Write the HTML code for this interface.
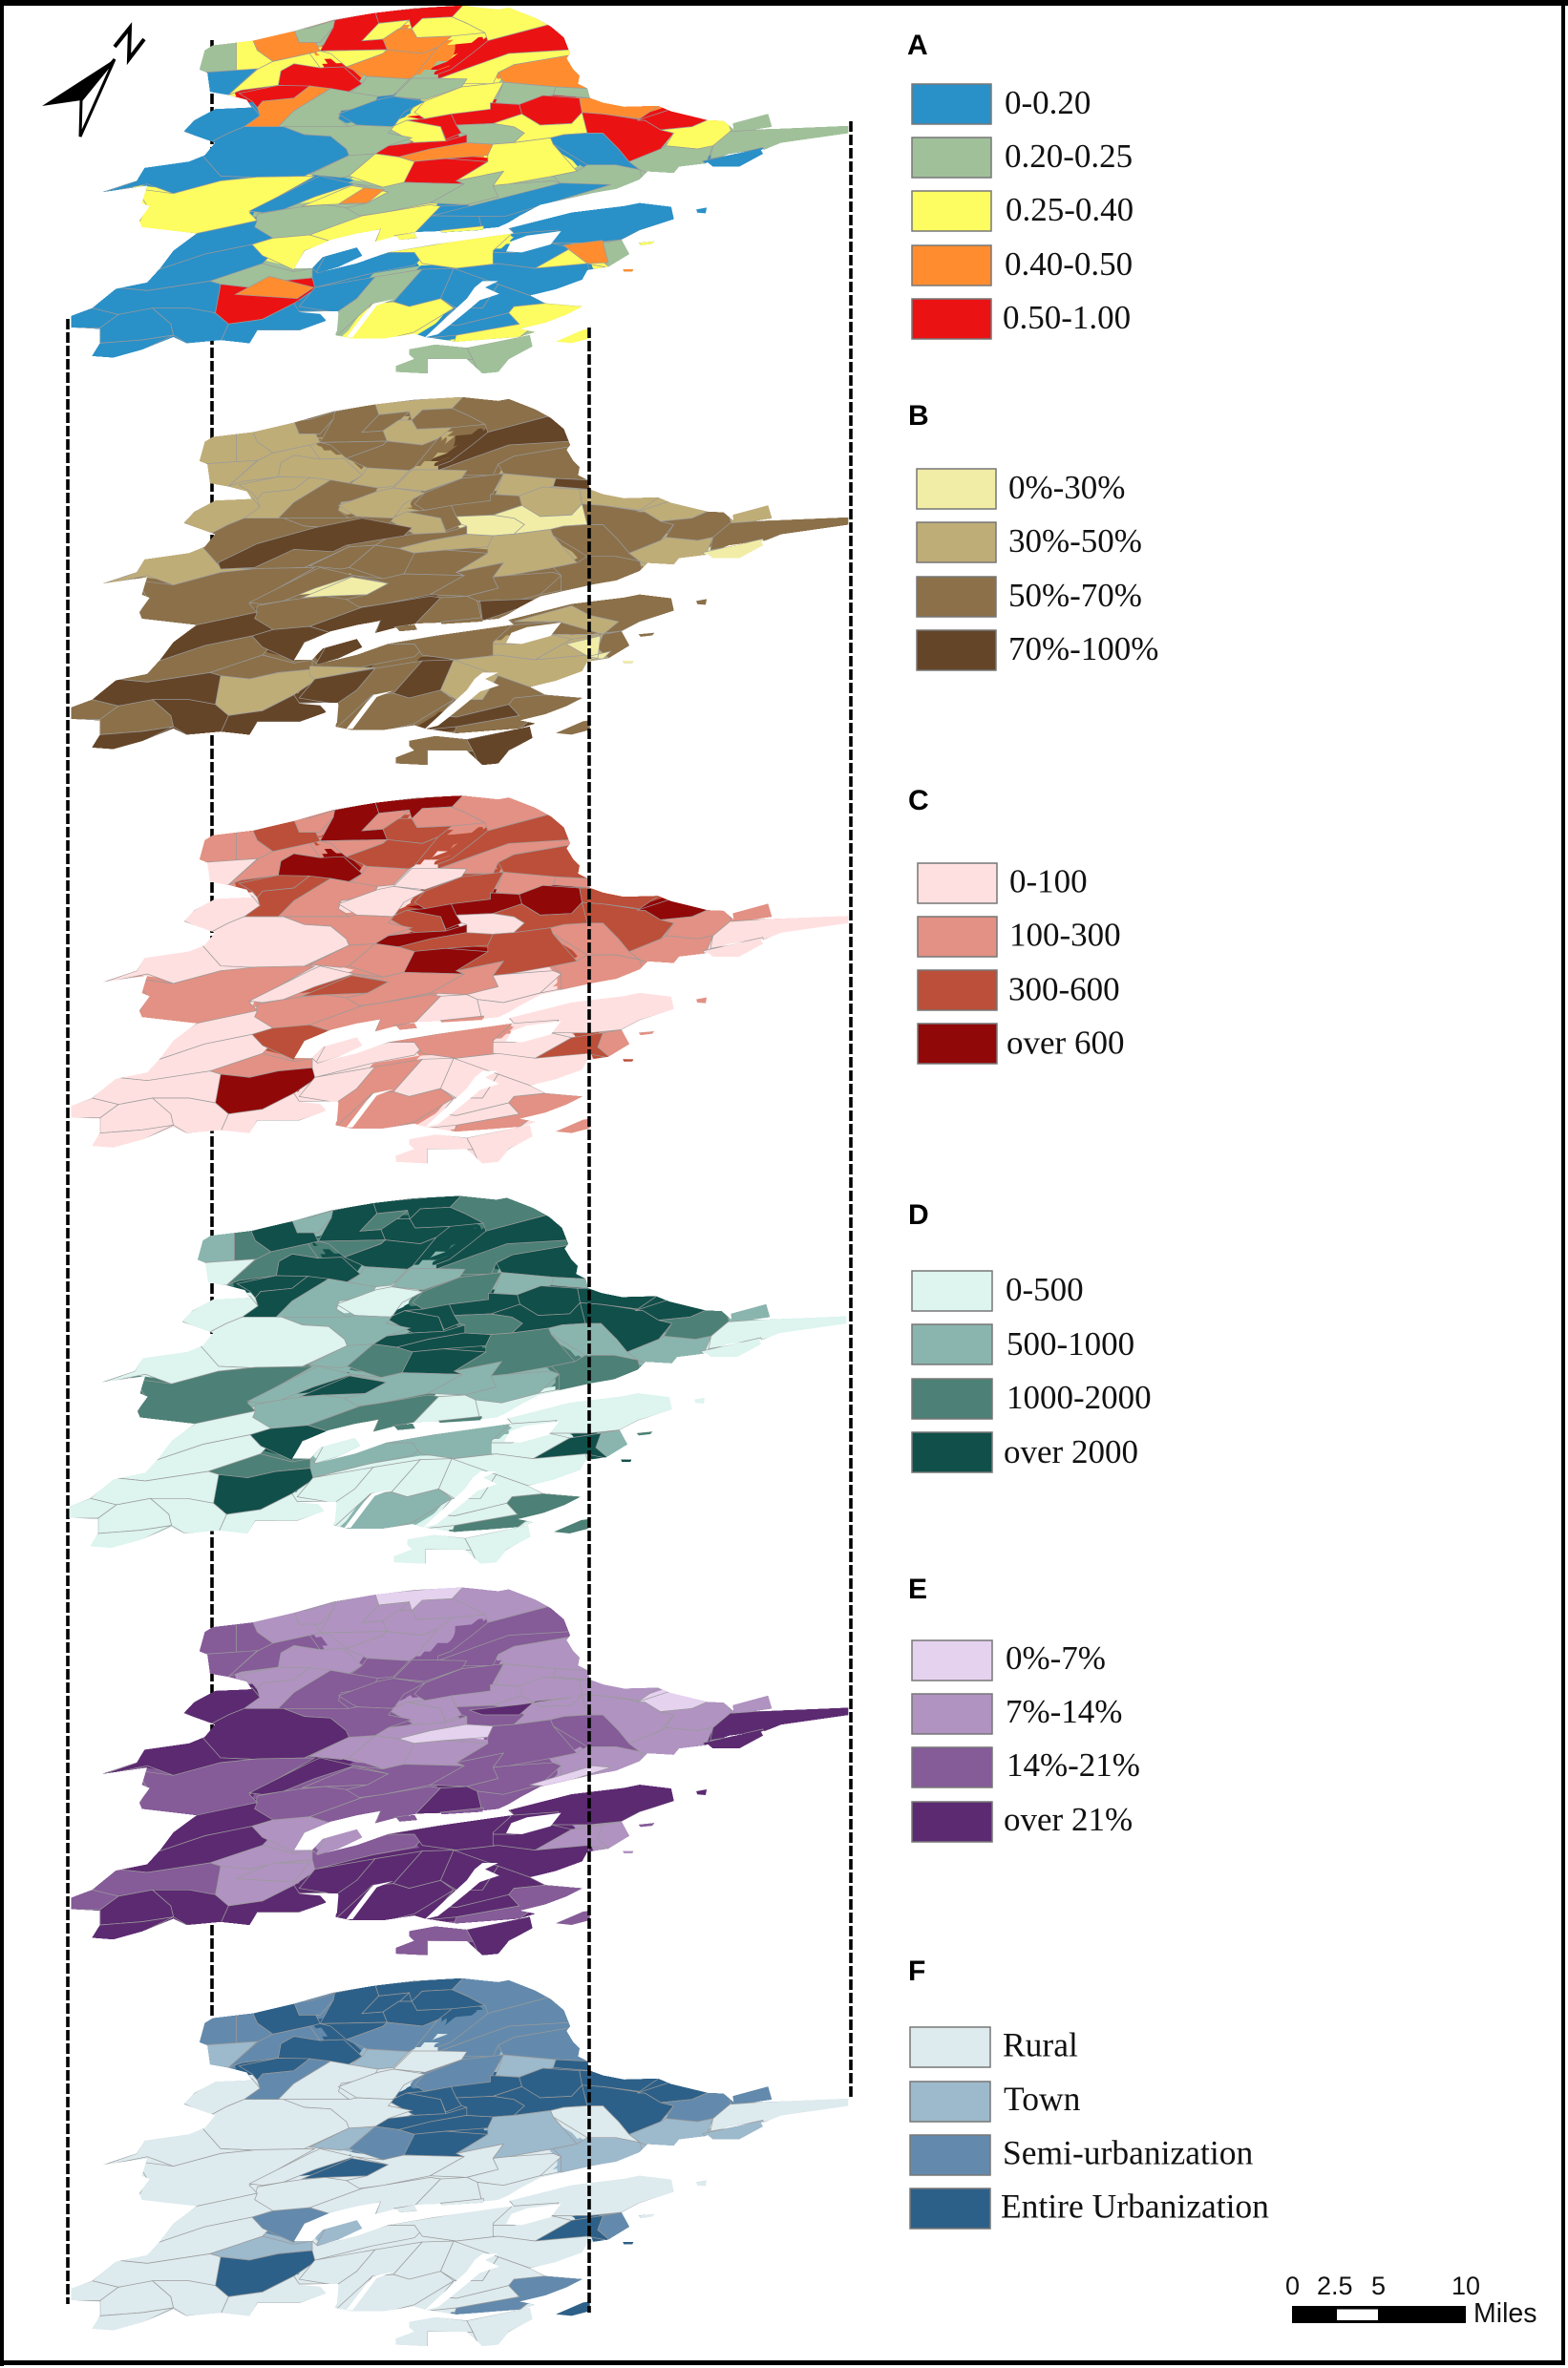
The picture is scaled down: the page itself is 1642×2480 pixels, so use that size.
<!DOCTYPE html>
<html lang="en">
<head>
<meta charset="utf-8">
<title>Six-panel township choropleth maps</title>
<style>
html,body{margin:0;padding:0;background:#fff}
svg{display:block}
.ser{font-family:"Liberation Serif",serif;font-size:35px;fill:#111}
.head{font-family:"Liberation Sans",sans-serif;font-size:30px;font-weight:bold;fill:#000}
.sc{font-family:"Liberation Sans",sans-serif;font-size:27px;fill:#111}
.sw{stroke:#777;stroke-width:1.5}
.dash{stroke:#000;stroke-width:3.6;stroke-dasharray:11 3;fill:none}
</style>
</head>
<body>
<svg id="figure" xmlns="http://www.w3.org/2000/svg" width="1642" height="2480" viewBox="0 0 1642 2480">
<rect width="1642" height="2480" fill="#fff"/>
<g>
<line class="dash" x1="71" y1="334" x2="71" y2="2413"/>
<line class="dash" x1="222" y1="42" x2="222" y2="2112"/>
<line class="dash" x1="891" y1="127" x2="891" y2="2197"/>
</g>
<g id="maps"></g>
<line class="dash" x1="617" y1="343" x2="617" y2="2422"/>

<g>
<polygon points="120,62 44,111 85,105" fill="#000"/>
<polygon points="120,62 85,105 84,143" fill="#fff" stroke="#000" stroke-width="3"/>
<polyline points="120,49 136,29 135,62 151,41" fill="none" stroke="#000" stroke-width="4"/>
</g>

<g>
<text class="head" x="950" y="57">A</text>
<rect class="sw" x="955" y="88" width="83" height="42" fill="#2a90c8"/>
<rect class="sw" x="955" y="144" width="83" height="42" fill="#a0c09a"/>
<rect class="sw" x="955" y="200" width="83" height="42" fill="#fdfc60"/>
<rect class="sw" x="955" y="257" width="83" height="42" fill="#ff8d30"/>
<rect class="sw" x="955" y="313" width="83" height="42" fill="#eb1214"/>
<text class="ser" x="1052" y="119">0-0.20</text>
<text class="ser" x="1052" y="175">0.20-0.25</text>
<text class="ser" x="1053" y="231">0.25-0.40</text>
<text class="ser" x="1052" y="288">0.40-0.50</text>
<text class="ser" x="1050" y="344">0.50-1.00</text>
</g>
<g>
<text class="head" x="951" y="445">B</text>
<rect class="sw" x="960" y="491" width="83" height="42" fill="#f1eda6"/>
<rect class="sw" x="960" y="547" width="83" height="42" fill="#bfad78"/>
<rect class="sw" x="960" y="604" width="83" height="42" fill="#8b7049"/>
<rect class="sw" x="960" y="660" width="83" height="42" fill="#654528"/>
<text class="ser" x="1056" y="522">0%-30%</text>
<text class="ser" x="1056" y="578">30%-50%</text>
<text class="ser" x="1056" y="635">50%-70%</text>
<text class="ser" x="1056" y="691">70%-100%</text>
</g>
<g>
<text class="head" x="951" y="848">C</text>
<rect class="sw" x="961" y="904" width="83" height="42" fill="#ffe0e0"/>
<rect class="sw" x="961" y="960" width="83" height="42" fill="#e29184"/>
<rect class="sw" x="961" y="1016" width="83" height="42" fill="#bc4f39"/>
<rect class="sw" x="961" y="1072" width="83" height="42" fill="#910808"/>
<text class="ser" x="1057" y="934.5">0-100</text>
<text class="ser" x="1057" y="990.5">100-300</text>
<text class="ser" x="1056" y="1047.5">300-600</text>
<text class="ser" x="1054" y="1103.5">over 600</text>
</g>
<g>
<text class="head" x="951" y="1282">D</text>
<rect class="sw" x="955" y="1331" width="84" height="42" fill="#ddf4ef"/>
<rect class="sw" x="955" y="1387" width="84" height="42" fill="#8ab5ae"/>
<rect class="sw" x="955" y="1444" width="84" height="42" fill="#4d8076"/>
<rect class="sw" x="955" y="1500" width="84" height="42" fill="#114f4a"/>
<text class="ser" x="1053" y="1362">0-500</text>
<text class="ser" x="1054" y="1419">500-1000</text>
<text class="ser" x="1054" y="1475">1000-2000</text>
<text class="ser" x="1051" y="1532">over 2000</text>
</g>
<g>
<text class="head" x="951" y="1674">E</text>
<rect class="sw" x="955" y="1718" width="84" height="42" fill="#e5d2ef"/>
<rect class="sw" x="955" y="1774" width="84" height="42" fill="#b093c1"/>
<rect class="sw" x="955" y="1830" width="84" height="42" fill="#855b98"/>
<rect class="sw" x="955" y="1887" width="84" height="42" fill="#5c2a71"/>
<text class="ser" x="1053" y="1748">0%-7%</text>
<text class="ser" x="1053" y="1804">7%-14%</text>
<text class="ser" x="1054" y="1860">14%-21%</text>
<text class="ser" x="1051" y="1917">over 21%</text>
</g>
<g>
<text class="head" x="951" y="2074">F</text>
<rect class="sw" x="953" y="2123" width="84" height="42" fill="#ddeaee"/>
<rect class="sw" x="953" y="2180" width="84" height="42" fill="#9db9cc"/>
<rect class="sw" x="953" y="2236" width="84" height="42" fill="#638aac"/>
<rect class="sw" x="953" y="2292" width="84" height="42" fill="#2d6088"/>
<text class="ser" x="1050" y="2153.5" style="font-size:35.5px">Rural</text>
<text class="ser" x="1051" y="2210" style="font-size:35.5px">Town</text>
<text class="ser" x="1050" y="2266.5" style="font-size:35.5px">Semi-urbanization</text>
<text class="ser" x="1048" y="2322.5" style="font-size:35.5px">Entire Urbanization</text>
</g>

<g>
<rect x="1353" y="2415" width="182" height="18" fill="#000"/>
<rect x="1400" y="2418.5" width="43" height="11.5" fill="#fff"/>
<text class="sc" x="1346" y="2403">0</text>
<text class="sc" x="1379" y="2403">2.5</text>
<text class="sc" x="1436" y="2403">5</text>
<text class="sc" x="1520" y="2403">10</text>
<text class="sc" x="1543" y="2432" style="font-size:28.5px">Miles</text>
</g>

<g>
<rect x="0" y="0" width="1642" height="6" fill="#000"/>
<rect x="0" y="0" width="4" height="2478" fill="#000"/>
<rect x="1635" y="0" width="4" height="2477" fill="#000"/>
<rect x="0" y="2472" width="1639" height="5" fill="#000"/>
</g>
</svg>

<script>
// Class of every zone per panel (-1 = the zone is not drawn on that panel).
const mapAClasses=[4,4,2,3,2,2,4,2,3,1,2,0,3,1,2,3,4,2,4,3,1,1,1,0,2,1,1,4,4,4,2,4,3,1,2,2,4,2,1,1,0,0,0,2,0,2,1,1,1,2,1,0,0,1,0,4,3,4,2,1,1,1,0,0,0,2,1,4,0,0,2,0,2,1,0,0,0,1,0,2,0,0,2,0,1,1,0,0,0,0,0,0,3,0,2,2,3,0,3,3,-1,-1,-1,-1,-1,-1,-1,-1,-1,-1,-1,-1,0];
const mapBClasses=[1,2,2,1,2,2,3,2,2,1,1,1,1,2,2,2,1,1,1,1,1,2,1,1,2,1,3,1,2,2,1,2,1,0,0,1,2,2,2,2,1,2,1,2,2,0,2,2,2,3,2,2,2,2,2,2,1,1,2,1,2,1,0,3,2,3,2,1,3,2,2,2,1,2,1,1,3,2,3,2,1,2,2,3,2,3,3,3,2,2,3,3,0,2,2,2,-1,-1,-1,-1,3,1,3,1,0,-1,-1,-1,-1,-1,-1,-1,-1];
const mapCClasses=[3,3,1,2,1,1,2,1,2,1,1,0,2,1,1,2,3,1,2,2,1,1,0,0,2,1,1,3,3,3,2,3,2,0,2,2,3,1,1,1,0,0,0,1,0,2,1,1,1,1,0,0,0,1,1,2,2,3,1,1,0,1,0,0,0,2,1,3,0,0,1,0,2,1,0,0,0,1,0,1,0,0,1,0,0,0,0,0,0,0,0,0,2,1,1,1,-1,-1,-1,-1,-1,-1,-1,-1,-1,-1,-1,-1,-1];
const mapDClasses=[3,3,2,3,3,2,3,2,3,1,2,0,3,1,2,3,3,2,3,3,1,1,1,0,2,1,1,3,3,3,3,3,3,2,3,2,3,2,1,1,0,0,0,2,1,3,1,1,1,2,1,0,0,2,1,3,3,3,2,1,0,1,0,0,0,3,2,3,0,1,1,0,3,1,0,0,0,0,0,1,0,0,2,0,0,0,0,0,0,0,0,0,3,0,2,2,-1,-1,-1,-1,-1,-1,-1,-1,-1,-1,-1,-1,-1];
const mapEClasses=[0,1,1,1,1,1,2,2,1,2,2,2,1,1,1,1,1,2,1,1,2,2,2,2,2,1,1,1,1,1,1,1,0,2,1,2,1,1,1,2,3,3,3,2,3,2,2,2,2,2,2,3,2,1,2,1,1,0,1,1,3,1,3,3,3,1,1,1,1,2,3,3,1,1,3,3,3,3,3,3,3,3,2,3,2,3,3,2,2,3,3,3,1,3,2,2,-1,-1,-1,-1,-1,-1,-1,-1,-1,-1,1,0,3,0,-1,-1];
const mapFClasses=[3,3,3,3,3,2,2,2,2,2,2,1,3,2,3,2,3,2,3,2,1,0,0,0,2,1,3,3,3,3,3,3,3,3,3,1,3,2,1,0,0,0,0,0,0,3,0,0,0,0,0,0,0,1,0,3,3,3,2,1,0,2,1,0,0,2,1,3,1,0,0,0,3,2,0,0,0,0,0,0,0,0,2,0,0,0,0,0,0,0,0,0,3,0,3,0,-1,-1,-1,-1,-1,-1,-1,-1,-1,-1,-1,-1,-1];
// Class colours, lowest to highest, one small array per panel.
const coloursA=["#2a90c8","#a0c09a","#fdfc60","#ff8d30","#eb1214"];
const coloursB=["#f1eda6","#bfad78","#8b7049","#654528"];
const coloursC=["#ffe0e0","#e29184","#bc4f39","#910808"];
const coloursD=["#ddf4ef","#8ab5ae","#4d8076","#114f4a"];
const coloursE=["#e5d2ef","#b093c1","#855b98","#5c2a71"];
const coloursF=["#ddeaee","#9db9cc","#638aac","#2d6088"];
const panelIds=["a","b","c","d","e","f"];

// Traced map geometry, in local map units shared by all six panels.
const zoneShapes=[
"625,60 795,35 772,75 715,80 695,112 690,85 632,95",
"500,118 548,85 625,60 632,95 600,150 640,145 648,178 520,182 545,108",
"600,150 632,95 690,85 670,115 640,145",
"640,145 670,112 695,112 705,140 772,135 745,170 715,190 648,178",
"715,80 772,75 800,95 835,125 772,135 705,140 695,112",
"795,35 860,40 880,40 940,70 955,100 840,150 835,125 800,95 772,75",
"955,100 990,130 1000,178 880,195 820,225 745,270 745,255 770,240 810,190 840,150",
"880,190 1000,178 998,195 890,225 860,250 850,285 790,285 745,270 820,225",
"890,225 998,195 1020,260 1020,285 1030,300 970,295 870,280 860,250",
"290,160 360,155 360,245 280,250 280,225",
"360,155 392,145 400,180 430,215 400,240 360,245",
"295,250 400,238 345,320 295,315",
"392,150 470,115 480,155 510,150 520,182 500,190 430,215 400,180",
"470,115 500,110 548,85 545,108 520,155 480,155",
"520,182 648,178 640,190 570,232 540,190",
"570,232 640,190 648,178 715,190 745,170 700,260 690,270 610,262",
"445,245 470,222 520,235 565,232 600,285 575,310 540,300 440,290",
"400,240 430,215 500,190 520,235 470,222 445,245 440,290 370,305 345,320",
"365,315 440,290 500,292 470,330 410,340 400,360 390,340",
"410,340 470,330 500,292 540,300 470,370 440,420 400,420 370,420 405,385 400,360",
"600,285 610,262 690,270 660,320 630,325 575,315",
"470,370 540,300 575,310 630,325 620,355 560,370 555,395 575,420 450,420 440,420",
"660,325 695,268 745,268 800,270 790,295 720,335",
"555,380 630,335 660,325 720,340 680,375 660,420 590,415",
"790,295 870,280 850,340 845,365 720,395 700,375 720,340",
"870,280 970,295 965,320 900,350 855,345",
"970,295 1030,300 1040,330 1000,325 965,320",
"900,350 945,322 1015,330 1020,375 1000,410 940,415 905,380",
"845,345 900,350 905,380 850,410 780,415 770,380 845,365",
"685,400 720,395 770,380 780,415 790,440 760,460 750,420",
"650,425 685,400 750,420 760,465 700,470",
"625,505 650,480 700,470 760,465 800,445 800,470 730,490 670,515",
"670,515 730,490 800,470 850,475 840,510 760,520 700,530",
"780,415 850,410 890,420 910,440 890,470 850,475 800,470 800,445 790,440",
"905,380 940,415 1000,410 1020,375 1030,440 985,445 960,455 890,470 910,440 890,420 850,410",
"840,510 850,475 890,470 960,455 965,475 1010,560 965,575 880,600 850,605 870,560 780,590 840,530",
"680,595 695,530 760,520 840,530 780,590 795,600",
"600,540 625,505 670,515 700,530 680,595 640,610 575,575",
"500,570 575,510 625,505 600,540 575,575 560,580",
"450,420 575,420 590,415 660,420 650,440 695,455 650,480 625,505 575,510 570,490 540,450 490,445",
"320,360 390,355 405,385 375,420 345,440 310,470 255,430 280,400",
"345,440 375,420 450,420 490,445 540,450 570,490 575,510 490,575 400,580 330,575 295,510 310,470",
"100,630 170,590 185,545 270,525 295,510 330,575 400,580 330,590 240,630 190,600",
"170,615 240,630 330,590 400,578 510,575 385,690 400,715 290,760 170,735 190,670",
"385,685 500,590 520,575 585,600 510,640 450,680 410,690",
"485,670 580,605 650,625 610,660 530,665",
"400,695 450,680 485,672 530,665 570,675 600,700 500,760 430,790 395,735",
"585,600 640,610 680,595 795,600 730,660 640,690 595,700 570,675 610,660 650,625",
"730,660 795,600 780,590 870,560 850,605 860,640 800,665",
"600,700 640,690 730,665 750,670 700,755 625,785 635,742 540,780 500,760",
"800,665 860,640 850,605 880,600 965,590 980,600 940,660 870,690 820,680",
"700,755 750,670 800,665 820,680 830,750",
"830,750 820,680 870,690 940,660 1050,625 880,725 860,740",
"965,575 1010,560 1030,540 1085,540 1130,555 1135,585 1085,620 1040,630 980,650 980,600",
"1030,440 1060,440 1090,490 1110,530 1130,555 1085,540 1030,540 1000,510 965,475 960,455 985,445",
"1020,375 1060,380 1140,400 1170,430 1195,440 1170,490 1110,530 1090,490 1060,440 1030,440",
"1040,330 1060,340 1100,352 1170,350 1130,395 1060,380 1020,375 1015,330",
"1125,400 1190,365 1265,395 1230,420 1170,430 1140,400",
"1170,430 1230,420 1265,395 1295,400 1315,430 1270,480 1240,490 1180,480 1195,440",
"1110,530 1170,490 1180,480 1240,490 1270,480 1255,540 1205,550 1195,570 1145,565 1130,555",
"1270,480 1310,425 1380,425 1535,412 1535,445 1400,475 1370,490 1300,510 1265,520",
"1300,412 1380,372 1390,425 1305,435",
"1250,528 1365,485 1370,508 1320,550 1265,550",
"285,755 400,715 395,735 430,770 390,790 300,820 210,870 235,810",
"210,870 300,820 390,790 430,815 410,850 310,905 190,935 130,925 185,910",
"390,790 430,770 500,760 540,780 490,810 470,870 410,825",
"310,905 410,850 470,875 505,865 505,895 440,905 385,925 330,915",
"330,915 385,925 440,905 505,895 515,925 470,975 410,1025 345,1040 320,1005",
"510,885 530,825 595,795 605,825 555,865",
"505,865 515,880 650,815 740,790 700,855 620,880 510,925 505,895",
"645,815 890,750 850,810 860,850 780,865 715,850 700,815",
"880,735 1000,685 1100,665 1130,655 1200,670 1200,710 1130,745 1095,775 1035,785 960,785 975,745 890,755",
"930,865 1000,800 1060,785 1050,830 1075,865 1030,850 960,870",
"1060,785 1095,775 1115,820 1075,865 1050,830",
"850,815 890,815 960,785 1000,800 930,865 850,850",
"860,850 930,865 1030,850 1035,875 1020,905 970,935 920,950 860,915 770,880 780,865",
"480,985 510,925 625,892 590,960 555,1005",
"590,960 625,892 715,868 660,970 620,975 550,1080 550,1005",
"660,970 715,868 775,865 750,960 690,985",
"570,1090 620,975 660,970 690,985 750,960 775,990 700,1065 640,1090",
"750,960 775,865 860,915 830,990 780,990",
"830,990 860,915 920,950 950,975 890,985 880,1005 780,1045 750,1040 775,990",
"775,1100 780,1075 900,1040 880,1005 890,985 950,975 1025,985 990,1012 950,1037 925,1050 900,1082",
"720,1085 750,1040 780,1045 880,1005 900,1040 780,1075",
"660,1200 665,1170 690,1150 685,1120 740,1103 800,1115 812,1152 725,1150 725,1200",
"800,1115 925,1072 930,1110 880,1150 865,1195 825,1200 812,1152",
"330,1095 385,1105 400,1060 480,1060 535,1030 535,1000 480,1000 470,975 410,1025 345,1040",
"130,925 190,935 310,905 330,915 320,1005 270,990 200,990 135,1010 85,990",
"40,1015 85,990 135,1010 100,1052 40,1052",
"135,1010 200,990 235,1040 240,1075 180,1090 100,1100 100,1052",
"200,990 270,990 320,1005 345,1040 330,1095 265,1100 240,1075 235,1040",
"100,1100 180,1090 240,1075 180,1122 125,1148 80,1142",
"1095,866 1120,866 1118,876 1098,876",
"1235,680 1260,672 1258,694 1238,692",
"965,1098 1020,1055 1040,1050 1040,1090 1000,1102",
"662,762 702,752 708,770 672,776|750,746 832,732 832,745 752,754|1125,785 1160,778 1155,790 1130,794",
"556,662 604,612 642,617 610,660",
"733,700 979,597 1075,602 872,702",
"358,947 423,890 508,925 476,960",
"984,792 1059,777 1070,847 1030,850",
"325,560 400,500 510,450 600,420 695,450 680,475 570,505 545,525 470,518 395,575 330,580",
"500,885 625,890 510,925 500,915",
"825,680 950,672 870,720 830,742",
"890,745 1000,695 1035,725 1090,745 1060,785 975,745",
"990,815 1055,790 1050,860 1030,855 1075,838 1060,862 1040,862",
"555,665 610,615 640,625 590,660",
"360,955 430,905 500,905 470,965",
"920,660 1040,600 1075,605 960,665",
"805,425 900,408 1000,385 930,397 900,440 830,440"
];
const zoneNames=["top-strip","north-chunk","north-hole","north-fringe","north-right","ne-cap","ne-band","ne-strip","east-block","nw-cap","nw-second","nw-inlet","north-west-a","north-west-b","north-mid-a","north-mid-b","west-core","west-link","west-low-a","west-low-b","centre-a","centre-b","centre-c","centre-d","centre-e","centre-f","centre-g","core-a","core-b","core-c","core-d","core-arm","core-under-arm","city","core-right","south-core-a","south-core-b","south-west-a","south-west-b","mid-west","far-west-a","far-west-b","far-west-c","west-large","west-strip","mid-blob","mid-south-a","mid-south-b","mid-south-c","mid-south-d","mid-south-e","shore-a","shore-b","shore-c","east-a","east-b","east-c","east-d","east-e","east-f","east-tip","ne-island","se-island","lower-a","lower-b","lower-c","lower-d","lower-block","bay-island","bay-south","south-a","south-b","south-c","south-d","south-e","south-f","peninsula-a","peninsula-b","peninsula-c","peninsula-d","peninsula-e","peninsula-f","strip-a","strip-b","island-a","island-b","sw-a","sw-b","sw-c","sw-d","sw-e","sw-f","speck-a","speck-b","speck-c","speck-d","patch-a","patch-b","patch-c","patch-d","patch-e","patch-f","patch-g","patch-h","patch-i","patch-j","patch-k","patch-l","patch-m"];
const landShapes=[
"315,165 392,150 470,120 545,85 625,63 700,48 790,40 860,52 880,46 930,78 960,105 985,140 997,190 990,205 1003,240 1015,260 1012,285 1030,300 1035,330 1060,345 1100,358 1165,355 1190,372 1260,400 1290,402 1310,430 1380,428 1528,418 1528,440 1400,470 1370,490 1300,505 1255,535 1205,545 1195,565 1145,560 1130,585 1085,615 1040,628 980,650 940,665 900,700 880,720 860,735 800,745 705,750 660,765 625,780 635,742 590,755 540,775 490,810 470,865 505,865 525,830 590,800 600,825 555,860 515,880 590,850 650,815 740,790 890,755 880,740 1000,690 1100,670 1130,660 1190,672 1195,710 1130,745 1095,775 1110,820 1070,860 1030,870 1020,900 970,930 920,950 950,975 1020,985 990,1010 950,1035 900,1055 930,1065 900,1080 780,1095 720,1080 700,1070 640,1085 580,1085 550,1075 555,1000 530,1000 530,1030 480,1060 400,1060 385,1100 330,1090 265,1100 240,1080 180,1120 125,1145 85,1140 100,1100 100,1055 45,1050 45,1015 85,990 130,930 190,910 215,865 240,810 285,755 180,735 175,715 195,670 180,660 190,605 105,625 170,590 185,550 270,530 300,510 320,470 260,435 280,400 320,365 390,360 380,335 345,320 310,310 305,250 290,240 300,180",
"690,1120 740,1105 800,1115 920,1075 925,1110 880,1150 860,1190 830,1195 800,1150 725,1150 725,1195 665,1190 665,1172 700,1150 690,1135",
"1308,410 1375,380 1382,420 1340,430 1310,430",
"1255,525 1360,490 1365,505 1320,545 1270,545",
"1098,868 1118,868 1116,875 1100,875",
"1238,680 1258,674 1256,692 1240,690",
"970,1095 1022,1058 1035,1055 1035,1085 1000,1100",
"665,762 700,755 705,770 672,775",
"750,746 830,734 830,744 752,752",
"1128,785 1158,780 1154,788 1132,792",
"535,880 515,880 510,890"
];
const waterShapes=[
"875,812 885,780 915,762 980,748 960,790 905,815",
"570,1082 608,1000 622,975 660,962 628,982 582,1082",
"720,1082 770,1005 800,960 815,925 830,905 860,905 835,925 862,945 825,965 800,1000 770,1040 745,1072",
"478,1002 520,1008 552,1065 555,1005 530,1000"
];
const panelOffsetsX=[50,50,50,48,50,50];
const panelOffsetsY=[-7.3,402.7,820,1239.3,1649.3,2058.7];
const panelClasses=[mapAClasses,mapBClasses,mapCClasses,mapDClasses,mapEClasses,mapFClasses];
const panelColours=[coloursA,coloursB,coloursC,coloursD,coloursE,coloursF];
const firstSpeckIndex=92;
const underlayWidths=[36,18,8];

const NS="http://www.w3.org/2000/svg";
const unitsX=1/1.823, unitsY=1/3;
function shapePath(shape){
  return shape.split("|").map(function(p){return "M"+p.trim().replace(/ /g,"L")+"Z";}).join("");
}
const root=document.getElementById("maps");
const defs=document.createElementNS(NS,"defs");
root.appendChild(defs);
const clip=document.createElementNS(NS,"clipPath");
clip.setAttribute("id","land-clip");
landShapes.forEach(function(pts){
  const c=document.createElementNS(NS,"polygon");
  c.setAttribute("points",pts);
  clip.appendChild(c);
});
defs.appendChild(clip);

panelIds.forEach(function(id,p){
  const panel=document.createElementNS(NS,"g");
  
  
  panel.setAttribute("transform","translate("+panelOffsetsX[p]+" "+panelOffsetsY[p]+") scale("+unitsX+" "+unitsY+")");
  const zones=document.createElementNS(NS,"g");
  zones.setAttribute("clip-path","url(#land-clip)");
  
  
  // Widened copies of each zone close the slivers between traced shapes.
  underlayWidths.forEach(function(w){
    panelClasses[p].forEach(function(cls,i){
      if(cls<0||i>=firstSpeckIndex)return;
      const u=document.createElementNS(NS,"path");
      u.setAttribute("d",shapePath(zoneShapes[i]));
      u.setAttribute("fill",panelColours[p][cls]);
      u.setAttribute("stroke",panelColours[p][cls]);
      u.setAttribute("stroke-width",w);
      u.setAttribute("stroke-linejoin","round");
      u.setAttribute("vector-effect","non-scaling-stroke");
      
      
      zones.appendChild(u);
    });
  });
  panelClasses[p].forEach(function(cls,i){
    if(cls<0||!zoneShapes[i])return;
    const z=document.createElementNS(NS,"path");
    z.setAttribute("d",shapePath(zoneShapes[i]));
    z.setAttribute("fill",panelColours[p][cls]);
    z.setAttribute("stroke","#9a9a9a");
    z.setAttribute("stroke-width","0.7");
    z.setAttribute("vector-effect","non-scaling-stroke");
    
    
    zones.appendChild(z);
  });
  panel.appendChild(zones);
  waterShapes.forEach(function(pts,k){
    const w=document.createElementNS(NS,"polygon");
    w.setAttribute("points",pts);
    w.setAttribute("fill","#fff");
    
    
    panel.appendChild(w);
  });
  root.appendChild(panel);
});
</script>
</body>
</html>
